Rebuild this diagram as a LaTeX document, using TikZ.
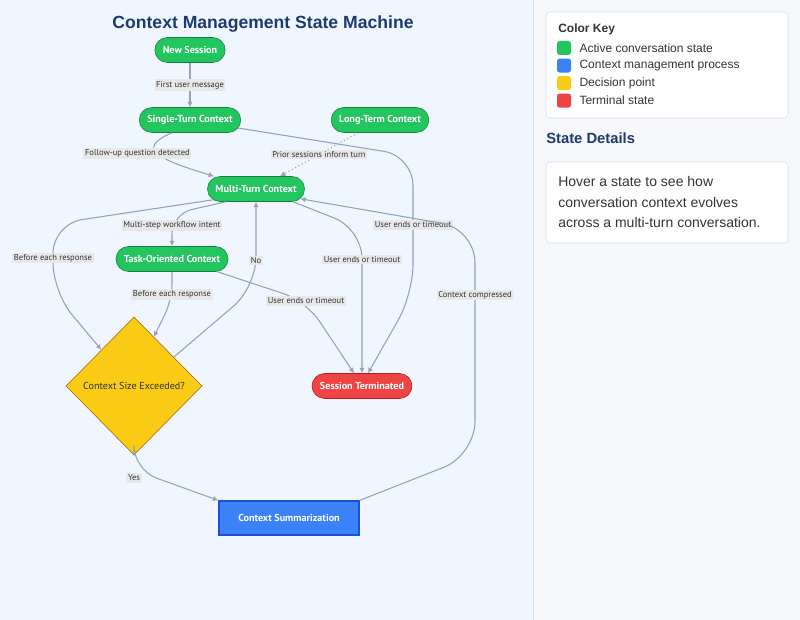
\documentclass[tikz,border=0pt]{standalone}
\usepackage{fontspec}
\setmainfont{Liberation Sans}
\newfontfamily\mmdfont{PT Sans}
\usetikzlibrary{arrows.meta,positioning,shapes.geometric}
\definecolor{statefill}{HTML}{22C55E}
\definecolor{stateline}{HTML}{15803D}
\definecolor{procfill}{HTML}{3B82F6}
\definecolor{procline}{HTML}{1D4ED8}
\definecolor{decfill}{HTML}{FACC15}
\definecolor{decline}{HTML}{A16207}
\definecolor{termfill}{HTML}{EF4444}
\definecolor{termline}{HTML}{B91C1C}
\definecolor{edgeline}{HTML}{94A3B8}
\definecolor{lblfill}{HTML}{E8E8E8}
\definecolor{inktext}{HTML}{333333}
\definecolor{navy}{HTML}{1E3A6E}
\definecolor{leftbg}{HTML}{EFF6FF}
\definecolor{rightbg}{HTML}{F6F8FB}
\definecolor{panelline}{HTML}{D5DEE9}

\begin{document}
\begin{tikzpicture}[
  x=0.75pt, y=-0.75pt,
  state/.style={draw=stateline, fill=statefill, rounded corners=9.4pt, minimum height=18.75pt, inner xsep=6pt, text=white, font=\mmdfont\bfseries\fontsize{7.6}{9}\selectfont},
  term/.style={state, draw=termline, fill=termfill},
  proc/.style={draw=procline, fill=procfill, line width=.9pt, minimum width=105pt, minimum height=25.5pt, text=white, font=\mmdfont\bfseries\fontsize{7.6}{9}\selectfont},
  decision/.style={diamond, draw=decline, fill=decfill, minimum width=102pt, minimum height=103.5pt, inner sep=0pt, text=inktext, font=\mmdfont\fontsize{7.6}{9}\selectfont},
  arrow/.style={-{Latex[length=4pt,width=4pt]}, draw=edgeline, line width=.8pt},
  lbl/.style={sharp corners, solid, fill=lblfill, text=inktext, inner sep=1.2pt, font=\mmdfont\fontsize{6.4}{8}\selectfont},
  title/.style={text=navy, font=\bfseries\fontsize{13.2}{15}\selectfont},
  panel/.style={draw=panelline, fill=white, rounded corners=3pt},
  swatch/.style={minimum size=10.5pt, inner sep=0pt, rounded corners=2pt},
  keytxt/.style={inner sep=0pt, text=inktext, font=\fontsize{9}{11}\selectfont}
]
\useasboundingbox (0,0) rectangle (800,620);
\fill[leftbg] (0,0) rectangle (533,620);
\fill[rightbg] (533,0) rectangle (800,620);
\draw[panelline] (533,0) -- (533,620);

\node[title, anchor=base] (ttl) at (263,28.3) {Context Management State Machine};

% states
\node[state] (ns) at (190,50) {New Session};
\node[state] (st) at (190,120) {Single-Turn Context};
\node[state] (lt) at (380,120) {Long-Term Context};
\node[state] (mt) at (256,189) {Multi-Turn Context};
\node[state] (tk) at (172,259) {Task-Oriented Context};
\node[decision] (dc) at (134,386) {Context Size Exceeded?};
\node[term] (tm) at (362,386) {Session Terminated};
\node[proc] (sm) at (289,518) {Context Summarization};

% transitions
\draw[arrow] (ns) -- node[lbl]{First user message} (st);
\draw[arrow] ([shift={(-18,0)}]st.south) .. controls +(-35,15) and +(-60,-18) .. ([shift={(-42,0)}]mt.north)
  node[lbl, pos=.5, shift={(-20,0)}]{Follow-up question detected};
\draw[arrow, dotted] ([shift={(-22,0)}]lt.south) -- node[lbl]{Prior sessions inform turn} ([shift={(24,0)}]mt.north);
\draw[arrow, rounded corners=22pt] ([shift={(-3,8)}]st.east) -- (413,156) -- node[lbl]{User ends or timeout} (413,294) -- ([shift={(6,0)}]tm.north);
\draw[arrow, rounded corners=15pt] ([shift={(-30,0)}]mt.south) -- (172,214) -- node[lbl, pos=.35]{Multi-step workflow intent} (tk.north);
\draw[arrow, rounded corners=22pt] ([shift={(6,-2)}]mt.south west) -- (53,224) -- node[lbl]{Before each response} (53,292) -- (dc.132);
\draw[arrow, rounded corners=12pt] (tk.south) -- node[lbl, pos=.8]{Before each response} (172,300) -- (dc.68);
\draw[arrow, rounded corners=22pt] (dc.36) -- (256,287) -- node[lbl, pos=.31]{No} (mt.south);
\draw[arrow, rounded corners=22pt] ([shift={(37,0)}]mt.south) -- (362,229) -- node[lbl, pos=.21]{User ends or timeout} (tm.north);
\draw[arrow, rounded corners=18pt] ([shift={(-11,0)}]tk.south east) -- (306,301) node[lbl]{User ends or timeout} -- ([shift={(-8,0)}]tm.north);
\draw[arrow, rounded corners=18pt] (dc.south) -- (134,470) node[lbl, shift={(0,8)}]{Yes} -- (sm.north west);
\draw[arrow, rounded corners=25pt] (sm.north east) -- (475,455) -- node[lbl, pos=.708]{Context compressed} (475,229) -- ([shift={(-4.5,-3)}]mt.south east);

% colour key
\draw[panel] (546,12) rectangle (788,118);
\node[keytxt, anchor=base west, font=\bfseries\fontsize{9}{11}\selectfont] (keyttl) at (558,32.3) {Color Key};
\node[swatch, fill=statefill] (swg) at (564,48) {};
\node[swatch, fill=procfill, below=2.25pt of swg] (swb) {};
\node[swatch, fill=decfill, below=2.25pt of swb] (swy) {};
\node[swatch, fill=termfill, below=2.25pt of swy] (swr) {};
\node[keytxt, right=6pt of swg] (txg) {Active conversation state};
\node[keytxt, right=6pt of swb] (txb) {Context management process};
\node[keytxt, right=6pt of swy] (txy) {Decision point};
\node[keytxt, right=6pt of swr] (txr) {Terminal state};

% state details
\node[keytxt, anchor=base west, text=navy, font=\bfseries\fontsize{11.1}{13}\selectfont] (sdttl) at (546,144) {State Details};
\draw[panel] (546,162) rectangle (788,243);
\node[keytxt, anchor=base west, font=\fontsize{10.5}{12}\selectfont] (dl1) at (558,186.7) {Hover a state to see how};
\node[keytxt, anchor=base west, font=\fontsize{10.5}{12}\selectfont] (dl2) at (558,207.2) {conversation context evolves};
\node[keytxt, anchor=base west, font=\fontsize{10.5}{12}\selectfont] (dl3) at (558,227.7) {across a multi-turn conversation.};
\end{tikzpicture}
\end{document}
